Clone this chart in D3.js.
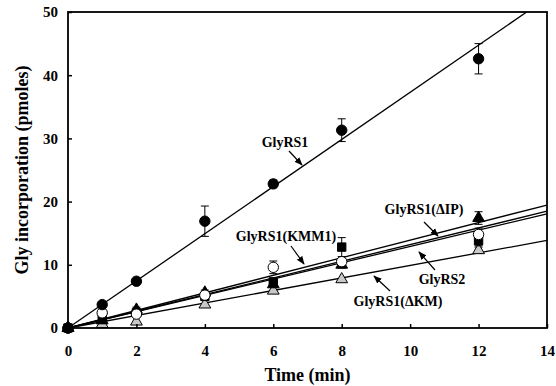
<!DOCTYPE html>
<html>
<head>
<meta charset="utf-8">
<script src="https://cdn.jsdelivr.net/npm/d3@7"></script>
<style>
  body { margin: 0; background: #fff; }
  svg text { font-family: "Liberation Serif", "Times New Roman", serif; font-weight: bold; }
</style>
</head>
<body>
<div id="chart"></div>
<script>
// time points (min)
const times = [0, 1, 2, 4, 6, 8, 12];

// Gly incorporation (pmoles) per construct
const glyrs1 = [0, 3.7, 7.4, 16.9, 22.8, 31.3, 42.6];
const glyrs1Err = [0, 0.3, 0.3, 2.4, 0.6, 1.8, 2.4];
const kmm1 = [0, 2.4, 2.2, 5.2, 9.6, 10.5, 14.8];
const kmm1Err = [0, 0.5, 0.3, 0.4, 1.0, 0.5, 1.0];
const glyrs2 = [0, 1.4, 2.4, 5.0, 7.3, 12.8, 13.8];
const glyrs2Err = [0, 0.3, 0.3, 0.4, 0.5, 1.5, 0.8];
const dIP = [0, 1.2, 2.9, 5.6, 6.9, 10.0, 17.4];
const dIPErr = [0, 0.3, 0.4, 0.4, 0.4, 0.5, 1.0];
const dKM = [0, 0.6, 1.0, 3.7, 5.9, 7.7, 12.3];
const dKMErr = [0, 0.2, 0.2, 0.3, 0.3, 0.3, 0.5];

// fitted slopes (pmoles/min), lines through origin
const slopes = { glyrs1: 3.73, kmm1: 1.32, glyrs2: 1.29, dIP: 1.39, dKM: 0.99 };

const xTicks = [0, 2, 4, 6, 8, 10, 12, 14];
const yTicks = [0, 10, 20, 30, 40, 50];

const W = 556, H = 386;
const margin = { top: 12, right: 9, bottom: 58, left: 68 };
const width = W - margin.left - margin.right;
const height = H - margin.top - margin.bottom;

const svg = d3.select('#chart').append('svg')
  .attr('width', W)
  .attr('height', H);

const g = svg.append('g').attr('transform', `translate(${margin.left},${margin.top})`);

const x = d3.scaleLinear().domain([0, 14]).range([0, width]);
const y = d3.scaleLinear().domain([0, 50]).range([height, 0]);

// fit lines
Object.keys(slopes).forEach(k => {
  const s = slopes[k];
  const tEnd = Math.min(14, 50 / s);
  g.append('line')
    .attr('x1', x(0)).attr('y1', y(0))
    .attr('x2', x(tEnd)).attr('y2', y(s * tEnd))
    .attr('stroke', '#000').attr('stroke-width', 1.3);
});

const series = [
  { vals: dKM, err: dKMErr, shape: 'tri', fill: '#c8c8c8' },
  { vals: dIP, err: dIPErr, shape: 'tri', fill: '#000' },
  { vals: glyrs2, err: glyrs2Err, shape: 'square', fill: '#000' },
  { vals: kmm1, err: kmm1Err, shape: 'circle', fill: '#fff' },
  { vals: glyrs1, err: glyrs1Err, shape: 'circle', fill: '#000' }
];

const symType = { tri: d3.symbolTriangle, square: d3.symbolSquare, circle: d3.symbolCircle };
const symSize = { tri: 60, square: 70, circle: 85 };

series.forEach(s => {
  const pts = times.map((t, i) => ({ t, v: s.vals[i], e: s.err[i] }));
  // error bars
  const eb = g.append('g');
  pts.filter(d => d.e > 0.35).forEach(d => {
    eb.append('line').attr('x1', x(d.t)).attr('x2', x(d.t))
      .attr('y1', y(d.v - d.e)).attr('y2', y(d.v + d.e))
      .attr('stroke', '#000').attr('stroke-width', 1);
    [d.v - d.e, d.v + d.e].forEach(v => {
      eb.append('line').attr('x1', x(d.t) - 4).attr('x2', x(d.t) + 4)
        .attr('y1', y(v)).attr('y2', y(v))
        .attr('stroke', '#000').attr('stroke-width', 1);
    });
  });
  g.append('g').selectAll('path').data(pts).enter().append('path')
    .attr('d', d3.symbol().type(symType[s.shape]).size(symSize[s.shape]))
    .attr('transform', d => `translate(${x(d.t)},${y(d.v)})`)
    .attr('fill', s.fill)
    .attr('stroke', '#000')
    .attr('stroke-width', 1);
});

// axes with inward ticks
const xAxis = g.append('g').attr('transform', `translate(0,${height})`)
  .call(d3.axisBottom(x).tickValues(xTicks).tickSize(-4).tickPadding(17).tickFormat(d3.format('d')));
const yAxis = g.append('g')
  .call(d3.axisLeft(y).tickValues(yTicks).tickSize(-4).tickPadding(10).tickFormat(d3.format('d')));
[xAxis, yAxis].forEach(a => {
  a.select('.domain').remove();
  a.selectAll('line').attr('stroke', '#000').attr('stroke-width', 1.5);
  a.selectAll('text').attr('font-size', 15).attr('fill', '#000')
    .style('font-family', '"Liberation Serif", serif').style('font-weight', 'bold');
});

// frame
g.append('rect').attr('x', 0).attr('y', 0).attr('width', width).attr('height', height)
  .attr('fill', 'none').attr('stroke', '#000').attr('stroke-width', 1.8);

// axis titles
svg.append('text').attr('x', margin.left + width / 2).attr('y', 381)
  .attr('text-anchor', 'middle').attr('font-size', 18).text('Time (min)');
svg.append('text').attr('transform', `translate(28,${margin.top + height / 2}) rotate(-90)`)
  .attr('text-anchor', 'middle').attr('font-size', 18).text('Gly incorporation  (pmoles)');

// annotations
svg.append('defs').append('marker').attr('id', 'arr')
  .attr('viewBox', '0 0 10 10').attr('refX', 9).attr('refY', 5)
  .attr('markerWidth', 7).attr('markerHeight', 7).attr('orient', 'auto')
  .append('path').attr('d', 'M0,1 L10,5 L0,9 Z').attr('fill', '#000');

const notes = [
  { text: 'GlyRS1', tx: 285, ty: 147, a: [289, 151, 302, 165] },
  { text: 'GlyRS1(KMM1)', tx: 286, ty: 241, a: [291, 246, 304, 264] },
  { text: 'GlyRS1(\u0394IP)', tx: 424, ty: 214, a: [424, 222, 438, 236] },
  { text: 'GlyRS2', tx: 442, ty: 284, a: [435, 270, 419, 252] },
  { text: 'GlyRS1(\u0394KM)', tx: 398, ty: 306, a: [390, 291, 374, 276] }
];
notes.forEach(n => {
  svg.append('text').attr('x', n.tx).attr('y', n.ty).attr('text-anchor', 'middle')
    .attr('font-size', 14).text(n.text);
  svg.append('line').attr('x1', n.a[0]).attr('y1', n.a[1]).attr('x2', n.a[2]).attr('y2', n.a[3])
    .attr('stroke', '#000').attr('stroke-width', 1.2).attr('marker-end', 'url(#arr)');
});
</script>
</body>
</html>
